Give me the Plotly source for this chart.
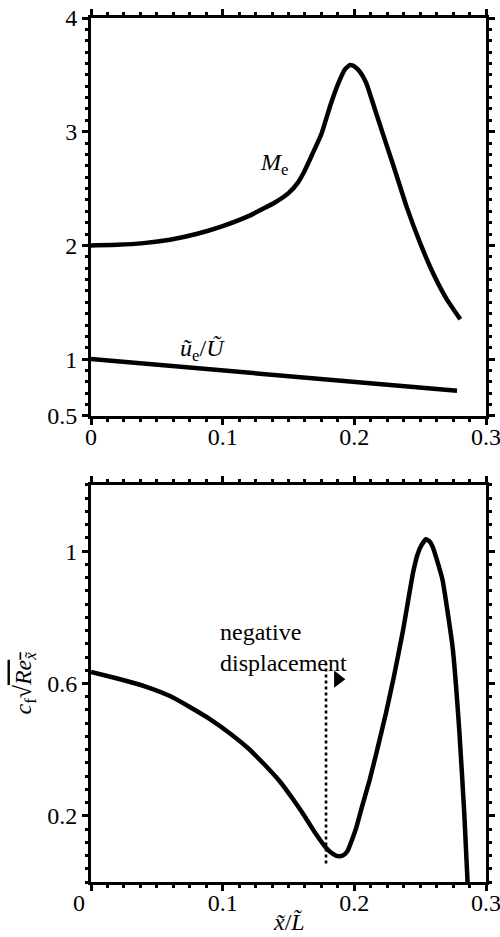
import plotly.graph_objects as go
from plotly.subplots import make_subplots

# ---- data ----
me_x = [0.0, 0.02, 0.04, 0.06, 0.08, 0.1, 0.12, 0.14, 0.15, 0.157, 0.162, 0.168, 0.175, 0.182,
        0.188, 0.193, 0.1967, 0.2, 0.204, 0.209, 0.215, 0.222, 0.23, 0.24, 0.25, 0.26, 0.27, 0.2805]
me_y = [2.0, 2.005, 2.02, 2.05, 2.1, 2.17, 2.26, 2.38, 2.46, 2.55, 2.65, 2.8, 2.98, 3.24,
        3.43, 3.55, 3.587, 3.575, 3.53, 3.43, 3.22, 2.97, 2.69, 2.33, 2.02, 1.75, 1.53, 1.35]

ue_x = [0.0, 0.07, 0.139, 0.21, 0.278]
ue_y = [1.0, 0.93, 0.861, 0.792, 0.722]

cf_x = [0.0, 0.02, 0.042, 0.06, 0.075, 0.09, 0.1056, 0.12, 0.131, 0.143, 0.154, 0.162, 0.169,
        0.174, 0.178, 0.182, 0.186, 0.189, 0.192, 0.195, 0.198, 0.2016, 0.206, 0.2116, 0.218,
        0.224, 0.23, 0.237, 0.2445, 0.248, 0.251, 0.2544, 0.257, 0.2595, 0.263, 0.267, 0.2746,
        0.2797, 0.2835, 0.286]
cf_y = [0.635, 0.615, 0.59, 0.562, 0.529, 0.493, 0.449, 0.402, 0.358, 0.306, 0.247, 0.2, 0.156,
        0.127, 0.106, 0.09, 0.08, 0.078, 0.082, 0.095, 0.125, 0.166, 0.23, 0.308, 0.41,
        0.51, 0.62, 0.761, 0.933, 0.99, 1.018, 1.036, 1.03, 1.013, 0.97, 0.913, 0.711,
        0.459, 0.207, 0.0]

# labelled ticks
x_tickvals = [0, 0.1, 0.2, 0.3]
x_ticktext_top = ["0", "0.1", "0.2", "0.3"]
x_ticktext_bot = ["0\u2003", "0.1", "0.2", "0.3"]
y1_tickvals = [0.5, 1, 2, 3, 4]
y1_ticktext = ["0.5", "1", "2", "3", "4"]
y2_tickvals = [0.2, 0.6, 1.0]
y2_ticktext = ["0.2", "0.6", "1"]
# unlabelled long ticks
x_plain_ticks = [0.05, 0.15, 0.25]
y1_plain_ticks = [1.5, 2.5, 3.5]
y2_plain_ticks = [0.4, 0.8]

neg_disp_x = 0.1785
neg_disp_y = [0.056, 0.66]

FONT = "Times New Roman, Liberation Serif, DejaVu Serif, serif"
FS = 24
X_RANGE = [0, 0.3]
Y1_RANGE = [0.5, 4]
Y2_RANGE = [0, 1.2]

fig = make_subplots(rows=2, cols=1, vertical_spacing=0.08)

line = dict(color="black", width=4.5)
fig.add_trace(go.Scatter(x=me_x, y=me_y, mode="lines", line=dict(line, shape="spline", smoothing=0.4)), row=1, col=1)
fig.add_trace(go.Scatter(x=ue_x, y=ue_y, mode="lines", line=line), row=1, col=1)
fig.add_trace(go.Scatter(x=cf_x, y=cf_y, mode="lines", line=dict(line, shape="spline", smoothing=0.4)), row=2, col=1)
fig.add_trace(go.Scatter(x=[neg_disp_x, neg_disp_x], y=neg_disp_y, mode="lines",
                         line=dict(color="black", width=2.6, dash="dot")), row=2, col=1)
fig.add_trace(go.Scatter(x=[0.1875], y=[0.613], mode="markers",
                         marker=dict(symbol="triangle-right", size=15, color="black")), row=2, col=1)

TICK = dict(ticks="outside", ticklen=6, tickwidth=2.5, tickcolor="black")
axis_common = dict(showline=True, linecolor="black", linewidth=3, mirror="ticks",
                   showgrid=False, zeroline=False, automargin=False, ticklabeloverflow="allow",
                   tickfont=dict(family=FONT, size=FS, color="black"), **TICK)
MINOR = dict(ticklen=3, tickwidth=2.5, tickcolor="black", ticks="outside")

fig.update_xaxes(axis_common, range=X_RANGE, tickmode="array", tickvals=x_tickvals,
                 ticklabelstandoff=-9, minor=dict(MINOR, dtick=0.0125, tick0=0))
fig.update_xaxes(ticktext=x_ticktext_top, row=1, col=1)
fig.update_xaxes(ticktext=x_ticktext_bot, row=2, col=1)
fig.update_yaxes(axis_common, range=Y1_RANGE, tickmode="array", tickvals=y1_tickvals, ticktext=y1_ticktext,
                 minor=dict(MINOR, dtick=0.1, tick0=0), row=1, col=1)
fig.update_yaxes(axis_common, range=Y2_RANGE, tickmode="array", tickvals=y2_tickvals, ticktext=y2_ticktext,
                 minor=dict(MINOR, dtick=0.04, tick0=0), row=2, col=1)

plain = dict(showline=True, linecolor="black", linewidth=3, mirror="ticks", showgrid=False,
             zeroline=False, showticklabels=False, automargin=False, tickmode="array", **TICK)

fig.update_layout(
    width=500, height=937, margin=dict(l=91, r=14, t=18, b=55),
    plot_bgcolor="white", paper_bgcolor="white", showlegend=False,
    font=dict(family=FONT, size=FS, color="black"),
    yaxis=dict(domain=[0.5394, 1.0]), yaxis2=dict(domain=[0.0, 0.4595]),
    xaxis3=dict(plain, overlaying="x", anchor="y", range=X_RANGE, tickvals=x_plain_ticks),
    xaxis4=dict(plain, overlaying="x2", anchor="y2", range=X_RANGE, tickvals=x_plain_ticks),
    yaxis3=dict(plain, overlaying="y", anchor="x", range=Y1_RANGE, tickvals=y1_plain_ticks),
    yaxis4=dict(plain, overlaying="y2", anchor="x2", range=Y2_RANGE, tickvals=y2_plain_ticks),
    annotations=[
        dict(x=0.139, y=2.72, xref="x", yref="y", text="<i>M</i><sub>e</sub>", showarrow=False,
             font=dict(family=FONT, size=FS)),
        dict(x=0.085, y=1.08, xref="x", yref="y", text="<i>\u0169</i><sub>e</sub>/<i>\u0168</i>", showarrow=False,
             font=dict(family=FONT, size=FS)),
        dict(x=0.0965, y=0.71, xref="x2", yref="y2", text="negative<br>displacement", showarrow=False,
             xanchor="left", align="left", font=dict(family=FONT, size=FS)),
        dict(x=0.5, y=0, xref="x domain", yref="paper", yshift=-40, yanchor="middle",
             text="<i>x\u0303</i>/<i>L\u0303</i>", showarrow=False, font=dict(family=FONT, size=FS)),
        dict(x=0, y=0.5, xref="paper", yref="y2 domain", xshift=-66, xanchor="center", textangle=-90,
             text="<i>c</i><sub>f</sub>\u221a<span style='text-decoration:overline'><i>Re</i><sub><i>x\u0303</i></sub></span>",
             showarrow=False, font=dict(family=FONT, size=FS)),
    ],
)

fig.write_html("out.html")
